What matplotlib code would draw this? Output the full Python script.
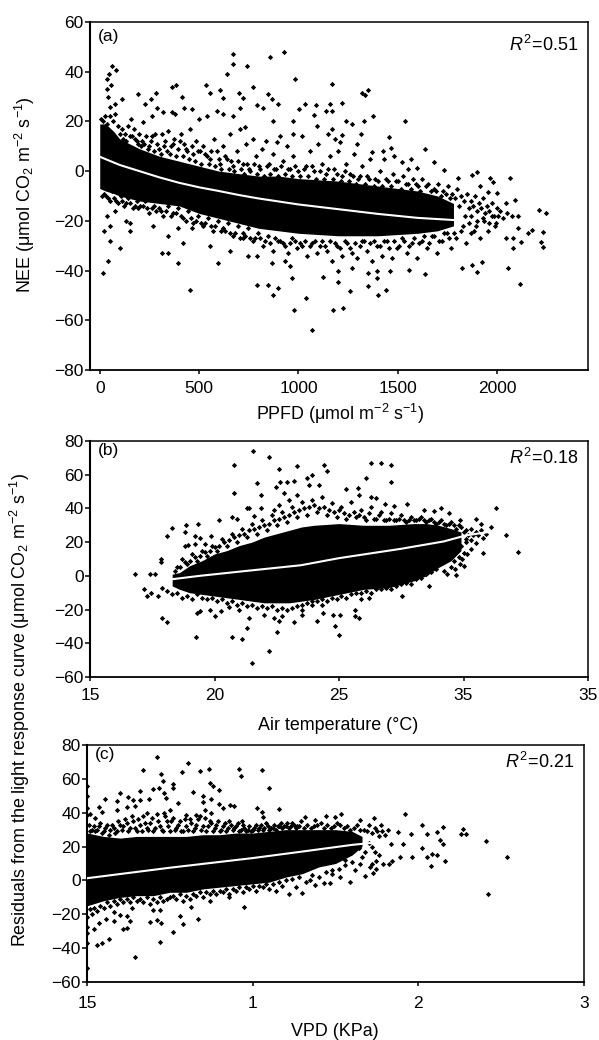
import numpy as np
import matplotlib
matplotlib.use('Agg')
import matplotlib.pyplot as plt

plt.rcParams['font.family'] = ['Liberation Sans', 'DejaVu Sans']
plt.rcParams['mathtext.fontset'] = 'custom'
plt.rcParams['mathtext.rm'] = 'Liberation Sans'
plt.rcParams['mathtext.it'] = 'Liberation Sans:italic'
plt.rcParams['mathtext.default'] = 'regular'

# Panel (a), NEE vs PPFD
a_core_x = [0, 30, 70, 100, 150, 200, 300, 400, 500, 600, 700, 800, 900, 1000, 1200, 1400, 1600, 1700, 1780]
a_core_up = [19, 19, 16, 13, 11, 9, 6, 4, 2, 0, -1, -2, -2, -3, -4, -6, -8, -10, -13]
a_core_lo = [-7, -8, -9, -10, -11, -12, -13, -14, -17, -19, -21, -23, -24, -25, -26, -26, -25, -24, -22]
a_fit_x = [0, 100, 200, 300, 400, 500, 600, 700, 800, 900, 1000, 1200, 1400, 1600, 1850]
a_fit_y = [5.8, 2.5, 0, -2.5, -4.7, -6.5, -8, -9.6, -11, -12.2, -13.4, -15.3, -17.2, -18.8, -20]
a_upper = [(60,42.5),(80,40.5),(49,39),(39,37),(57,34.7),(39,33),(44,30),(111,29),(77,27),(52,26),(191,31),(284,31.6),(257,29),
	(228,27),(362,34),(383,34.7),(413,30),(534,34.5),(555,31.6),(606,32.5),(619,29.6),(639,39),(673,47),(673,43),(743,42.5),
	(770,34),(701,31.6),(720,29.6),(857,46),(928,48),(983,37),(846,31),(866,29),(790,26.7),(899,27),(824,25.6),(1003,25),
	(706,25.6),(589,24),(424,25.6),(463,25),(320,23.6),(287,25.6),(158,21),(216,19.6),(265,22),(362,23.6),(379,23),(497,21),
	(539,22),(622,23),(673,22),(732,17.6),(975,20),(975,15),(874,20),(891,11.6),
	(1171,35),(1318,31.6),(1352,32.7),(1335,30.5),(1218,27.6),(1033,27),(1088,26.5),(1159,27),(1139,24),(1167,24),(1078,22.7),
	(1240,20),(1271,18.8),(1330,20),(1374,22),(1535,20),(1092,18),(1167,17),(1150,15),(1218,14.5),(1315,15),(1184,13),(1209,11.6),
	(1293,10.8),(1458,13.6),(1466,9.3),(1427,8.3),(1369,7.6),(1637,9),(1483,6),(1684,3.6),(1520,3.6),(1567,4.7),(1553,1),(1595,1.3),
	(1734,0.3),(1805,-2.8),(1897,-0.4),(1872,-1.7),(1964,-2.7),(1981,-4.4),(2065,-2.8),(1914,-6),(1956,-8.4),(1998,-8.7),(2090,-11.7),
	(2043,-12.7),(2211,-15.5),(2245,-17),(2107,-18),(2073,-18)]
a_upper_fringe = [(5,21),(15,20),(25,22),(35,19),(50,22),(65,20),(75,23),(90,18),(110,17),(125,15),(140,18),(160,14),(170,17),(185,12),
	(200,15),(215,12),(235,14),(250,10),(265,14),(280,15),(300,9),(315,15),(330,12),(345,16),(360,10),(375,13),(395,9),(410,15),
	(425,11),(440,8),(455,17),(470,7),(485,12),(505,8),(520,10),(540,6),(555,5),(575,13),(590,8),(605,3),(620,10),(640,5),(655,15),
	(670,2),(690,8),(705,17),(720,3),(735,11),(750,1),(770,13),(785,6),(800,2),(815,9),(835,12),(850,3),(870,7),(885,1),(905,14),
	(920,4),(940,10),(955,1),(975,6),(1000,0),(1020,14),(1040,2),(1060,8),(1080,0),(1100,11),(1120,3),(1140,-1),(1160,6),(1180,1),
	(1200,8),(1220,-2),(1240,3),(1260,-1),(1280,7),(1300,-3),(1320,2),(1345,-2),(1360,5),(1385,-3),(1410,0),(1430,5),(1450,-4),
	(1475,-1),(1500,-4),(1525,-2),(1550,-5),(1575,-3),(1600,-6),(1620,-3),(1650,-5),(1680,-7),(1700,-5),(1725,-8),(1750,-6),
	(1775,-9),(1800,-7),(1820,-10),(1850,-9),(1870,-12),(1890,-10),(1910,-13),(1930,-11),(1950,-14),(1975,-13),(2000,-15)]
a_mid_upper = [(100,15),(118,13),(132,12),(150,14),(178,13),(192,11),(208,10),(225,11),(242,9),(258,12),(272,8),(290,11),(308,7),(322,10),
	(338,8),(352,7),(368,11),(385,6),(402,12),(418,6),(432,9),(448,5),(462,10),(478,4),(495,8),(512,3),(528,7),(548,3),(562,8),(582,2),
	(598,5),(612,1),(628,6),(648,1),(662,4),(678,0),(698,4),(712,1),(728,-1),(742,3),(758,0),(778,3),(792,-1),(808,1),(825,-2),(842,2),
	(858,-1),(878,1),(895,-2),(912,2),(930,-1),(948,1),(965,-2),(985,2),(1010,-2),(1030,1),(1050,-2),(1070,2),(1090,-3),(1110,0),
	(1130,-3),(1150,1),(1172,-3),(1192,-1),(1212,-4),(1232,0),(1252,-4),(1272,-2),(1292,-5),(1312,-2),(1335,-5),(1355,-3),(1378,-6),
	(1400,-4),(1422,-6),(1442,-3),(1465,-6),(1490,-4),(1515,-7),(1540,-5),(1565,-7),(1590,-5),(1612,-8),(1640,-6),(1665,-8),(1690,-8),
	(1715,-10),(1740,-9),(1765,-11),(1790,-11),(1810,-14),(1835,-12),(1860,-15),(1880,-14),(1900,-16),(1920,-15),(1940,-17),(1960,-16),
	(1985,-18),(2005,-18),(1840,-18),(1870,-18),(1900,-20),(1930,-19),(1960,-21),(1990,-22),(1830,-22),(1860,-21),(1885,-24)]
a_lower = [(15,-41),(44,-36),(52,-28),(102,-31),(22,-24),(52,-22),(35,-18),(77,-16),(132,-20),(153,-21),(153,-24),(270,-22),(315,-33),
	(345,-33),(345,-26),(396,-37),(421,-29),(396,-23),(455,-48),(463,-23),(555,-30),(594,-37),(656,-32),(790,-46),(846,-46),(871,-50),
	(899,-47),(976,-56),(966,-43),(958,-38),(933,-36),(866,-37),(790,-34),(748,-34),(723,-27),
	(2104,-22.8),(2177,-23.5),(2157,-25),(2233,-24.4),(2219,-28.4),(2233,-30.7),(2043,-27),(2078,-27),(2119,-28.4),(2082,-31),
	(2052,-38.8),(2115,-45.3),(1922,-36.4),(1822,-38.8),(1872,-37.7),(1897,-40.7),(1637,-41.4),(1558,-39.7),(1461,-40),(1352,-41),
	(1394,-40),(1394,-43),(1201,-40),(1198,-44.7),(1122,-42.7),(1268,-39),(1260,-48.4),(1349,-46.4),(1402,-50),(1439,-48),(1038,-51),
	(1176,-55.7),(1226,-55),(1070,-64)]
a_lower_fringe = [(20,-9),(40,-11),(60,-8),(80,-12),(105,-10),(120,-14),(140,-11),(165,-15),(185,-12),(205,-14),(230,-12),(250,-17),
	(275,-14),(300,-15),(320,-18),(345,-14),(370,-17),(395,-15),(420,-19),(445,-16),(470,-21),(495,-18),(520,-22),(545,-19),(570,-24),
	(595,-20),(620,-23),(645,-21),(670,-26),(695,-22),(720,-25),(745,-23),(770,-28),(795,-25),(820,-30),(845,-26),(870,-32),(895,-28),
	(920,-29),(945,-33),(970,-27),(995,-31),(1020,-30),(1045,-34),(1070,-29),(1095,-33),(1120,-28),(1145,-32),(1170,-36),(1195,-30),
	(1220,-34),(1245,-29),(1270,-33),(1295,-35),(1320,-28),(1345,-32),(1370,-36),(1395,-30),(1420,-34),(1445,-28),(1470,-35),(1495,-31),
	(1520,-27),(1545,-33),(1570,-29),(1595,-35),(1620,-28),(1645,-31),(1670,-26),(1695,-33),(1720,-28),(1745,-25),(1770,-31),(1795,-27),
	(1820,-24),(1845,-29),(1870,-25),(1895,-22),(1915,-27),(1935,-20),(1955,-24),(1975,-18),(1995,-21),(2015,-16),(2030,-19),(2050,-17)]
a_mid_lower = [(10,-10),(30,-10),(50,-12),(70,-11),(92,-13),(112,-12),(130,-13),(152,-13),(175,-14),(195,-15),(218,-14),(240,-15),(262,-15),
	(285,-16),(310,-16),(335,-16),(358,-18),(382,-17),(408,-18),(432,-20),(458,-19),(482,-20),(508,-21),(532,-21),(558,-22),(582,-22),
	(608,-24),(632,-24),(658,-25),(682,-25),(708,-27),(732,-26),(758,-27),(782,-27),(808,-27),(832,-28),(858,-29),(882,-27),(908,-28),
	(932,-30),(958,-29),(982,-28),(1008,-29),(1032,-28),(1058,-30),(1082,-28),(1108,-30),(1132,-30),(1158,-28),(1182,-29),(1208,-31),
	(1232,-28),(1258,-31),(1282,-29),(1308,-30),(1332,-28),(1358,-29),(1382,-28),(1408,-30),(1432,-28),(1458,-31),(1482,-28),(1508,-30),
	(1532,-28),(1558,-30),(1582,-27),(1608,-29),(1632,-26),(1658,-29),(1682,-26),(1708,-28),(1732,-25),(1758,-27),(1782,-25)]

# Panel (b), residuals vs air temperature
b_core_x = [18.3, 18.6, 19, 19.5, 20, 20.5, 21, 21.5, 22, 22.5, 23, 23.5, 24, 25, 26, 27, 28, 28.5, 29, 29.5, 29.9]
b_core_up = [1, 2, 6, 9, 13, 15, 18, 20, 23, 25, 27, 29, 30, 31, 30, 30, 31, 31, 30, 28, 26]
b_core_lo = [-6, -8, -10, -11, -12, -13, -14, -15, -16, -16, -16, -15, -14, -11, -8, -7, -3, 0, 5, 9, 15]
b_fit_x = [18.3, 19.4, 21, 23.47, 25, 27.47, 29.2, 30.1, 31]
b_fit_y = [-2, 0, 2.5, 6.3, 10.5, 16, 20.4, 24, 26]
b_upper = [(16.8,1),(17.4,1),(17.6,1),(17.85,10),(17.85,8),(18.1,23.5),(18.3,28.5),(18.85,30),(18.8,26),(19.35,30.5),(19.2,23.5),
	(19.4,22.5),(18.8,18),(18.95,18.5),(19.2,19),(19.85,23.5),(20.2,33),(19.6,19),(20.8,65.5),(20.8,49),(21.55,74),(21.7,55),(22.2,70.5),
	(21.85,48),(22.6,63.5),(23.3,65),(22.65,55.5),(22.9,55.5),(23.2,56.5),(22.45,53),(22.8,49),(20.7,35),(20.9,34),(21.3,40.5),(21.4,40),
	(21.6,35.5),(21.85,40),(22.4,39),(22.6,42),(23,45),(23.3,48),(24.4,65.5),(24.5,62),(23.7,58),(23.9,60),(23.8,54),(24.2,54),(25.3,51.5),
	(25.75,52.4),(26.1,58),(26.3,67),(26.7,67),(27.1,66),(27.1,55.5),(25.8,47.7),(26.3,47),(26.5,46),(26.85,42.5),(27.2,41.7),(27.75,42.7),
	(28.4,39),(28.8,38.5),(29.1,40),(29.4,37),(31.3,40),(30.5,33.8),(29.85,33),(30.7,30.8),(31.1,28.7),(31.7,24),(30.8,22.7),(32.2,14),
	(30.8,13.8),(30.5,19.4),(30.3,16),(30,13.8),(30,6),(29.7,0.6)]
b_upper_fringe = [(18.5,5),(18.7,10),(18.9,7),(19.1,13),(19.3,9),(19.5,15),(19.7,12),(19.9,18),(20.1,15),(20.3,22),(20.5,18),(20.7,25),
	(20.9,20),(21.1,28),(21.3,23),(21.5,31),(21.7,25),(21.9,33),(22.1,27),(22.3,36),(22.5,30),(22.7,38),(22.9,32),(23.1,41),(23.3,35),
	(23.5,44),(23.7,36),(23.9,45),(24.1,38),(24.3,47),(24.5,36),(24.7,43),(24.9,35),(25.1,41),(25.3,34),(25.5,44),(25.7,35),(25.9,39),
	(26.1,33),(26.3,41),(26.5,34),(26.7,38),(26.9,33),(27.1,37),(27.3,33),(27.5,36),(27.7,32),(27.9,35),(28.1,33),(28.3,35),(28.5,32),
	(28.7,34),(28.9,31),(29.1,33),(29.3,30),(29.5,32),(29.7,28),(29.9,29),(30.1,27),(30.3,28),(30.5,26),(30.7,27),(30.9,25),(29.6,22),
	(29.9,18),(30.1,22),(30.3,21),(30.6,24),(29.4,14),(29.6,9),(29.8,11),(29.5,5),(29.2,3)]
b_mid_upper = [(18.4,3),(18.6,5),(18.8,8),(19,9),(19.2,11),(19.4,12),(19.6,14),(19.8,15),(20,17),(20.2,18),(20.4,20),(20.6,21),(20.8,23),
	(21,24),(21.2,25),(21.4,27),(21.6,28),(21.8,29),(22,30),(22.2,31),(22.4,33),(22.6,34),(22.8,35),(23,36),(23.2,38),(23.4,39),(23.6,40),
	(23.8,41),(24,42),(24.2,40),(24.4,41),(24.6,39),(24.8,38),(25,39),(25.2,37),(25.4,36),(25.6,38),(25.8,36),(26,35),(26.2,37),(26.4,34),
	(26.6,36),(26.8,33),(27,34),(27.2,33),(27.4,34),(27.6,33),(27.8,33),(28,33),(28.2,34),(28.4,33),(28.6,33),(28.8,32),(29,32),(29.2,31),
	(29.4,31),(29.6,30),(29.8,30),(30,26),(30.1,20),(30.2,24),(30.4,24),(30.15,13),(29.95,10),(29.85,7),(29.65,4),(29.35,1)]
b_lower = [(17.15,-8),(17.3,-12),(17.45,-10),(17.75,-12),(17.9,-25),(18.1,-27.5),(19.3,-22),(19.4,-21),(19.8,-20.5),(20,-24),(19.25,-36.5),
	(20.25,-21),(20.6,-18.5),(20.7,-36.5),(21.1,-37.7),(21.3,-31),(21.4,-25),(21,-20),(22.2,-44.5),(21.5,-51.5),(22.5,-33.5),(22.4,-25),
	(22.6,-26.5),(23.2,-27.5),(23.5,-23.5),(22,-23),(22.7,-24),(28.6,-6),(27.55,-11.7),(26.2,-13),(25.9,-13.6),(25.65,-20),(25.65,-24),
	(25.8,-25),(25.05,-23),(24.75,-23),(24.85,-30),(25,-35),(24.1,-26.7),(24.35,-22),(24.3,-17),(23.9,-15),(23.5,-20)]
b_lower_fringe = [(17.9,-7),(18.1,-9),(18.3,-11),(18.5,-10),(18.7,-13),(18.9,-12),(19.1,-14),(19.3,-11),(19.5,-13),(19.7,-14),(19.9,-13),
	(20.1,-15),(20.3,-14),(20.5,-16),(20.7,-15),(20.9,-17),(21.1,-16),(21.3,-18),(21.5,-17),(21.7,-19),(21.9,-18),(22.1,-19),(22.3,-18),
	(22.5,-20),(22.7,-19),(22.9,-20),(23.1,-19),(23.3,-18),(23.5,-17),(23.7,-16),(23.9,-17),(24.1,-15),(24.3,-14),(24.5,-15),(24.7,-13),
	(24.9,-14),(25.1,-12),(25.3,-13),(25.5,-11),(25.7,-10),(25.9,-10),(26.1,-9),(26.3,-10),(26.5,-8),(26.7,-8),(26.9,-7),(27.1,-8),
	(27.3,-6),(27.5,-5),(27.7,-4),(27.9,-5),(28.1,-2),(28.3,-1),(28.5,1),(28.7,2),(28.9,4)]

# Panel (c), residuals vs VPD
c_core_x = [0, 0.1, 0.2, 0.3, 0.4, 0.5, 0.6, 0.7, 0.8, 0.9, 1.0, 1.1, 1.2, 1.3, 1.4, 1.5, 1.6, 1.66]
c_core_up = [28, 26, 25, 26, 26, 26, 26, 27, 27, 28, 28, 29, 30, 30, 30, 30, 29, 26]
c_core_lo = [-15, -12, -10, -9, -9, -7, -7, -5, -4, -3, -2, -1, 2, 4, 8, 10, 15, 20]
c_fit_x = [0, 0.5, 1.0, 1.295, 1.6, 1.8]
c_fit_y = [1.3, 7.5, 13.2, 17, 21, 23]
c_upper = [(0,55.7),(0,50),(0,42.5),(0,38.6),(.07,43.5),(.11,48),(.18,47),(.2,51.5),(.25,49),(.28,47.5),(.32,53),(.34,65),(.4,54),(.425,73),
	(.445,63),(.46,59),(.435,54.4),(.465,51.5),(.52,57),(.52,54.4),(.575,64),(.61,69.5),(.68,64.8),(.735,66),(.64,52),(.7,50),(.7,46.5),
	(.75,48),(.74,57.7),(.76,55.8),(.795,53.4),(.795,45),(.82,43),(.865,44.5),(.89,44),(.915,66),(.93,61.6),(1.055,65),(1.1,54.8),(1.025,43),
	(1.055,40.6),(1.065,37.6),(1.16,42),(.935,35),(.32,47.5),(.375,48),(.55,45.5),(.475,48.5),(.71,41.5),(.75,39.6),(.02,39),(.05,37),(.09,40.5),
	(.18,41.6),(.24,43.5),(.29,44),(.365,39.6),(.465,39.6),(.5,41.5),(.66,38.6),(.6,38.6),
	(1.92,39),(1.44,38),(1.535,39.3),(1.495,37.3),(1.375,35.7),(1.315,37.3),(1.65,35.7),(1.73,36.7),(2.02,33),(2.05,27.4),(2.15,31.4),(2.115,28.4),
	(2.13,23.9),(2.15,21.5),(2.02,19.3),(2.27,30.2),(2.26,27.2),(2.29,27.2),(2.41,23.3),(2.535,14),(2.42,-7.9),(1.96,13.6),(1.89,13.6),(2.055,13.6),
	(2.08,15.6),(2.11,14.8),(2.075,8.7),(2.16,11.4),(1.91,21.5),(1.875,28.8),(1.835,21.5),(1.777,32.7),(1.817,30),(1.957,27.4)]
c_upper_fringe = [(.01,33),(.03,30),(.05,29),(.07,32),(.09,28),(.11,31),(.13,27),(.15,33),(.17,28),(.19,35),(.21,30),(.23,36),(.25,29),(.27,38),
	(.29,31),(.31,36),(.33,29),(.35,34),(.37,30),(.39,37),(.41,31),(.43,35),(.45,30),(.47,38),(.49,32),(.51,35),(.53,30),(.55,33),(.57,29),(.59,36),
	(.61,30),(.63,34),(.65,31),(.67,36),(.69,30),(.71,37),(.73,32),(.75,34),(.77,31),(.79,35),(.81,30),(.83,34),(.85,31),(.87,33),(.89,31),(.91,34),
	(.93,30),(.95,31),(.97,30),(.99,29),(1.01,31),(1.03,30),(1.05,33),(1.07,31),(1.09,32),(1.11,31),(1.13,33),(1.15,32),(1.17,34),(1.19,32),(1.21,34),
	(1.23,32),(1.25,33),(1.27,32),(1.29,35),(1.33,33),(1.37,32),(1.41,34),(1.45,33),(1.49,32),(1.53,33),(1.57,32),(1.61,31),(1.65,30),(1.69,29),
	(1.72,28),(1.74,31),(1.76,26),(1.78,29),(1.8,27),(1.7,22),(1.72,20),(1.74,17),(1.76,15),(1.68,17),(1.66,14),(1.64,19)]
c_mid_upper = [(.02,29),(.04,32),(.06,30),(.08,34),(.1,29),(.12,33),(.14,30),(.16,31),(.18,29),(.2,33),(.22,32),(.24,34),(.26,31),(.28,35),(.3,29),
	(.32,33),(.34,38),(.36,31),(.38,34),(.4,29),(.42,39),(.44,32),(.46,29),(.48,35),(.5,29),(.52,37),(.54,31),(.56,35),(.58,29),(.6,32),(.62,36),
	(.64,29),(.66,33),(.68,38),(.7,32),(.72,29),(.74,35),(.76,29),(.78,33),(.8,29),(.82,32),(.84,29),(.86,35),(.88,30),(.9,32),(.92,29),(.94,33),
	(.96,29),(.98,32),(1,30),(1.02,33),(1.04,31),(1.06,30),(1.08,34),(1.1,30),(1.12,31),(1.14,30),(1.16,32),(1.18,31),(1.2,32),(1.22,31),(1.24,34),
	(1.26,31),(1.28,32),(1.31,31),(1.35,31),(1.39,33),(1.43,31),(1.47,31),(1.51,34),(1.55,31),(1.59,30),(1.63,33),(1.67,30),(1.7,33),(1.75,29)]
c_lower = [(0,-52),(0,-37),(0,-31),(0,-27.5),(.06,-38.3),(.09,-37),(.13,-34.4),(.045,-28.5),(.07,-25),(.115,-22.5),(.16,-24),(.22,-28.5),(.24,-28),
	(.26,-24),(.29,-45.5),(.38,-24.5),(.425,-23.5),(.445,-25),(.44,-36.4),(.52,-30.5),(.56,-21),(.58,-25.5),(.67,-23),(.4,-17.6),(.44,-17.6),(.63,-15.6),
	(.95,-15.6),(.74,-12.3),(.855,-9.7),(.16,-18.6),(.2,-20.6),(.24,-21),(.27,-16),(0,-21.6),(.03,-19.6),
	(1.707,8),(1.72,10),(1.747,11.4),(1.787,9.7),(1.82,9.7),(1.84,11.6),(1.727,4.5),(1.68,2.8),(1.747,6.5),(1.586,-0.8),(1.53,1.8),(1.48,3.7),
	(1.465,-1.4),(1.43,-1.8),(1.375,-2.8),(1.345,0.2),(1.295,-7.3),(1.646,10),(1.616,6),(1.556,12)]
c_lower_fringe = [(.02,-17),(.04,-16),(.06,-18),(.08,-15),(.1,-16),(.12,-13),(.14,-15),(.16,-12),(.18,-14),(.2,-11),(.22,-13),(.24,-11),(.26,-13),
	(.28,-10),(.3,-12),(.32,-11),(.34,-13),(.36,-10),(.38,-14),(.4,-11),(.42,-13),(.44,-10),(.46,-12),(.48,-11),(.5,-10),(.52,-9),(.54,-11),(.56,-8),
	(.58,-12),(.6,-9),(.62,-11),(.64,-8),(.66,-9),(.68,-7),(.7,-10),(.72,-7),(.74,-8),(.76,-6),(.78,-8),(.8,-6),(.82,-7),(.84,-5),(.86,-8),(.88,-5),
	(.9,-6),(.92,-4),(.94,-7),(.96,-4),(.98,-5),(1,-3),(1.02,-6),(1.04,-3),(1.06,-4),(1.08,-2),(1.1,-5),(1.12,-2),(1.14,-6),(1.16,-1),(1.18,-3),
	(1.2,0),(1.22,-8),(1.24,1),(1.26,-4),(1.28,2),(1.32,-1),(1.36,3),(1.4,2),(1.44,5),(1.48,6),(1.52,7),(1.56,9),(1.6,11)]

y_labels_a = ['60', '40', '20', '0', '\u221220', '\u221240', '\u221260', '\u221280']
y_ticks_a = [60, 40, 20, 0, -20, -40, -60, -80]
x_ticks_a = [0, 500, 1000, 1500, 2000]
y_labels_bc = ['80', '60', '40', '20', '0', '\u221220', '\u221240', '\u221260']
y_ticks_bc = [80, 60, 40, 20, 0, -20, -40, -60]
x_ticks_b = [15, 20, 25, 30, 35]
x_labels_b = ['15', '20', '25', '35', '35']
x_ticks_c = [0, 1, 2, 3]
x_labels_c = ['15', '1', '2', '3']

W = 599
H = 1040
FS = 12.5
FS_LAB = 12.9

# Make axes from pixel box of the reference
def make_ax(fig, left, right, top, bottom):
	ax = fig.add_axes([left/W, 1 - bottom/H, (right - left)/W, (bottom - top)/H])
	for s in ax.spines.values():
		s.set_linewidth(1.1)
	ax.spines['left'].set_linewidth(1.5)
	ax.spines['bottom'].set_linewidth(1.3)
	return ax

# Draw one panel
def panel(ax, core_x, core_up, core_lo, groups, fit_x, fit_y, xlim, ylim, xt, xl, yt, yl, tag, r2):
	ax.fill_between(core_x, core_lo, core_up, color='k', lw=0, zorder=2)
	for g in groups:
		p = np.asarray(g)
		ax.plot(p[:, 0], p[:, 1], 'D', color='k', ms=2.7, mew=0, zorder=3, clip_on=True)
	ax.plot(fit_x, fit_y, color='white', lw=1.5, zorder=4)
	ax.set_xlim(xlim)
	ax.set_ylim(ylim)
	ax.set_xticks(xt)
	ax.set_xticklabels(xl, fontsize=FS)
	ax.set_yticks(yt)
	ax.set_yticklabels(yl, fontsize=FS)
	ax.tick_params(axis='y', length=3.5, width=1.1, pad=1)
	ax.tick_params(axis='x', length=3, width=1.1, pad=5)
	ax.text(0.015, 0.958, tag, transform=ax.transAxes, fontsize=FS, va='center')
	ax.text(0.98, 0.93 if tag != '(a)' else 0.935, r2, transform=ax.transAxes, fontsize=13, ha='right', va='center')

fig = plt.figure(figsize=(W/100, H/100), dpi=100)

ax1 = make_ax(fig, 90, 588, 22, 370)
panel(ax1, a_core_x, a_core_up, a_core_lo, [a_upper, a_upper_fringe, a_mid_upper, a_lower, a_lower_fringe, a_mid_lower], a_fit_x, a_fit_y,
	(-49, 2457), (-80, 60), x_ticks_a, [str(t) for t in x_ticks_a], y_ticks_a, y_labels_a, '(a)', r'$\mathit{R}^2\!=\!0.51$')

ax2 = make_ax(fig, 90, 588, 441, 677)
panel(ax2, b_core_x, b_core_up, b_core_lo, [b_upper, b_upper_fringe, b_mid_upper, b_lower, b_lower_fringe], b_fit_x, b_fit_y,
	(15, 35), (-60, 80), x_ticks_b, x_labels_b, y_ticks_bc, y_labels_bc, '(b)', r'$\mathit{R}^2\!=\!0.18$')

ax3 = make_ax(fig, 87, 584, 745, 982)
panel(ax3, c_core_x, c_core_up, c_core_lo, [c_upper, c_upper_fringe, c_mid_upper, c_lower, c_lower_fringe], c_fit_x, c_fit_y,
	(0, 3), (-60, 80), x_ticks_c, x_labels_c, y_ticks_bc, y_labels_bc, '(c)', r'$\mathit{R}^2\!=\!0.21$')
ax3.tick_params(axis='x', pad=7)

fig.text(340/W, 1 - 414/H, r'PPFD ($\mu$mol m$^{-2}$ s$^{-1}$)', fontsize=FS_LAB, ha='center', va='center')
fig.text(338/W, 1 - 725/H, 'Air temperature (\u00b0C)', fontsize=FS_LAB, ha='center', va='center')
fig.text(335/W, 1 - 1032/H, 'VPD (KPa)', fontsize=FS_LAB, ha='center', va='center')
fig.text(25/W, 1 - 195/H, r'NEE ($\mu$mol CO$_2$ m$^{-2}$ s$^{-1}$)', fontsize=FS_LAB, rotation=90, ha='center', va='center')
fig.text(20/W, 1 - 710/H, r'Residuals from the light response curve ($\mu$mol CO$_2$ m$^{-2}$ s$^{-1}$)', fontsize=FS_LAB, rotation=90, ha='center', va='center')

fig.savefig('out.png', dpi=100)
